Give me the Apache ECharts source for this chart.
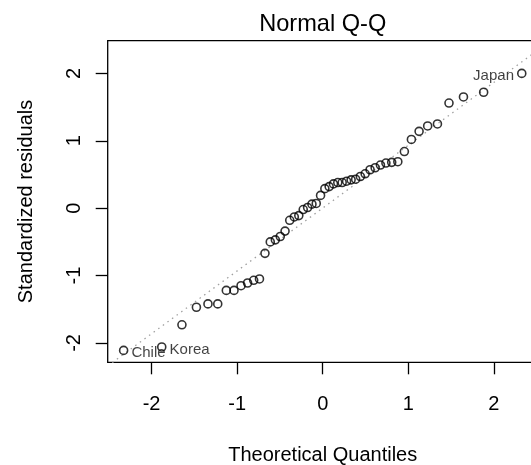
<!DOCTYPE html>
<html>
<head>
<meta charset="utf-8">
<script src="https://cdn.jsdelivr.net/npm/echarts@6/dist/echarts.min.js"></script>
<style>
  html, body { margin: 0; padding: 0; background: #fff; }
  #chart { width: 531px; height: 465px; }
</style>
</head>
<body>
<div id="chart"></div>
<script>
// Normal quantiles for 50 ordered observations, p = (i - 0.5) / 50
const theoreticalQuantiles = [
  -2.3263, -1.8808, -1.6449, -1.4758, -1.3408, -1.2265, -1.1264, -1.0364, -0.9542, -0.8779,
  -0.8064, -0.7388, -0.6745, -0.6128, -0.5534, -0.4959, -0.4399, -0.3853, -0.3319, -0.2793,
  -0.2275, -0.1764, -0.1257, -0.0753, -0.0251,
   0.0251,  0.0753,  0.1257,  0.1764,  0.2275,  0.2793,  0.3319,  0.3853,  0.4399,  0.4959,
   0.5534,  0.6128,  0.6745,  0.7388,  0.8064,  0.8779,  0.9542,  1.0364,  1.1264,  1.2265,
   1.3408,  1.4758,  1.6449,  1.8808,  2.3263
];

// Standardized residuals, sorted ascending
const standardizedResiduals = [
  -2.11, -2.06, -1.73, -1.47, -1.42, -1.42, -1.22, -1.22, -1.15, -1.11,
  -1.07, -1.05, -0.67, -0.50, -0.47, -0.42, -0.34, -0.18, -0.13, -0.11,
  -0.02,  0.01,  0.06,  0.07,  0.19,
   0.29,  0.32,  0.36,  0.38,  0.38,  0.40,  0.42,  0.43,  0.47,  0.51,
   0.57,  0.60,  0.64,  0.67,  0.68,  0.69,  0.84,  1.02,  1.14,  1.22,
   1.25,  1.56,  1.65,  1.72,  2.00
];

// Observations identified by name, with their rank among the sorted residuals
const idNames = ['Chile', 'Korea', 'Japan'];
const idRanks = [1, 2, 50];

const xTickValues = [-2, -1, 0, 1, 2];
const yTickValues = [-2, -1, 0, 1, 2];

// Reference line through the first and third quartiles
const quartileProbs = [0.25, 0.75];
const normalQuartiles = [-0.6745, 0.6745];

function quantile7(sorted, p) {
  const h = (sorted.length - 1) * p;
  const lo = Math.floor(h);
  const hi = Math.min(lo + 1, sorted.length - 1);
  return sorted[lo] + (h - lo) * (sorted[hi] - sorted[lo]);
}
const yq = quartileProbs.map(p => quantile7(standardizedResiduals, p));
const slope = (yq[1] - yq[0]) / (normalQuartiles[1] - normalQuartiles[0]);
const intercept = yq[0] - slope * normalQuartiles[0];

// Axis limits: 4% padding, extra headroom on top for labels
const xLo = Math.min(...theoreticalQuantiles), xHi = Math.max(...theoreticalQuantiles);
const xPad = (xHi - xLo) * 0.04;
const xMin = xLo - xPad, xMax = xHi + xPad;
const yLo = Math.min(...standardizedResiduals);
let yHi = Math.max(...standardizedResiduals);
yHi += (yHi - yLo) * 0.075;
const yPad = (yHi - yLo) * 0.04;
const yMin = yLo - yPad, yMax = yHi + yPad;

const points = theoreticalQuantiles.map((q, i) => {
  const item = { value: [q, standardizedResiduals[i]] };
  const k = idRanks.indexOf(i + 1);
  if (k >= 0) {
    item.label = {
      show: true,
      formatter: idNames[k],
      position: q > 0 ? 'left' : 'right'
    };
  }
  return item;
});

const font = 'Liberation Sans, Arial, Helvetica, sans-serif';
const chart = echarts.init(document.getElementById('chart'), null, { renderer: 'canvas' });

chart.setOption({
  animation: false,
  backgroundColor: '#fff',
  textStyle: { fontFamily: font, color: '#000' },
  title: {
    text: 'Normal Q-Q',
    left: 322.75,
    top: 12,
    padding: 0,
    textAlign: 'center',
    textStyle: { fontFamily: font, fontSize: 23.6, fontWeight: 'normal', color: '#000', lineHeight: 24 }
  },
  grid: {
    left: 107.7,
    top: 40.7,
    width: 430,
    height: 321.6,
    show: true,
    borderColor: '#000',
    borderWidth: 1.3,
    backgroundColor: 'transparent',
    containLabel: false,
    outerBoundsMode: 'none'
  },
  xAxis: {
    type: 'value',
    min: xMin,
    max: xMax,
    name: 'Theoretical Quantiles',
    nameLocation: 'middle',
    nameGap: 83.5,
    nameTextStyle: { fontFamily: font, fontSize: 20, color: '#000', lineHeight: 20 },
    axisLine: { show: false, onZero: false },
    splitLine: { show: false },
    axisTick: {
      show: true, length: 12, customValues: xTickValues,
      lineStyle: { color: '#000', width: 1.3 }
    },
    axisLabel: {
      customValues: xTickValues,
      margin: 32,
      fontFamily: font, fontSize: 20, color: '#000', lineHeight: 20
    }
  },
  yAxis: {
    type: 'value',
    min: yMin,
    max: yMax,
    name: 'Standardized residuals',
    nameLocation: 'middle',
    nameGap: 71,
    nameRotate: 90,
    nameTextStyle: { fontFamily: font, fontSize: 20, color: '#000', lineHeight: 20 },
    axisLine: { show: false, onZero: false },
    splitLine: { show: false },
    axisTick: {
      show: true, length: 12, customValues: yTickValues,
      lineStyle: { color: '#000', width: 1.3 }
    },
    axisLabel: {
      customValues: yTickValues,
      rotate: 90,
      margin: 23.5,
      fontFamily: font, fontSize: 20, color: '#000', lineHeight: 20
    }
  },
  series: [
    {
      type: 'line',
      silent: true,
      symbol: 'none',
      clip: true,
      z: 1,
      data: [[xMin, intercept + slope * xMin], [xMax, intercept + slope * xMax]],
      lineStyle: { color: '#a0a0a0', width: 1.3, type: [1.5, 4.2] }
    },
    {
      type: 'scatter',
      silent: true,
      symbol: 'circle',
      symbolSize: 8,
      z: 2,
      itemStyle: { color: 'rgba(0,0,0,0)', borderColor: '#000', borderWidth: 1.6 },
      label: {
        show: false,
        distance: 3,
        offset: [0, 2.5],
        fontFamily: font,
        fontSize: 15,
        color: '#111'
      },
      data: points
    }
  ]
});
</script>
</body>
</html>
